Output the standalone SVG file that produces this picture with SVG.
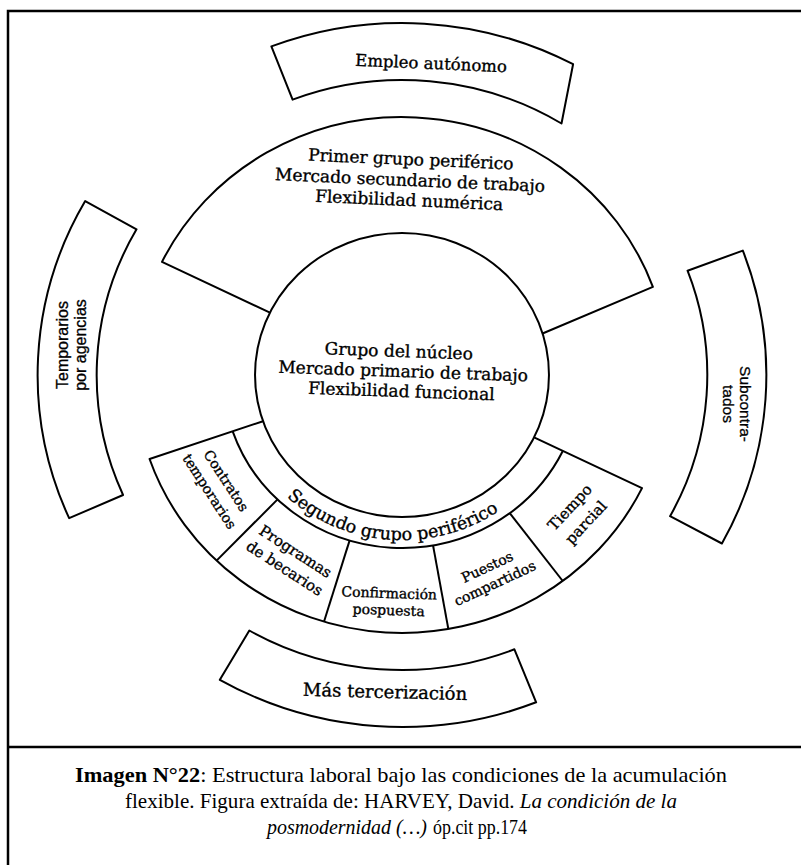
<svg xmlns="http://www.w3.org/2000/svg" width="801" height="865" viewBox="0 0 801 865">
<style>
.ln{fill:none;stroke:#000;stroke-width:2;stroke-linejoin:round;vector-effect:non-scaling-stroke}
.fr{fill:none;stroke:#000;stroke-width:2.5}
.sf{font-family:"DejaVu Serif","Liberation Serif",serif;fill:#000;stroke:#000;stroke-width:0.35}
.ss{font-family:"Liberation Sans",Arial,sans-serif;fill:#000;stroke:#000;stroke-width:0.3}
.cap{font-family:"Liberation Serif","Times New Roman",serif;font-size:21px;fill:#000}
</style>
<defs>
<path id="segArc" d="M234.3,406.5 A170.8 165 0 0 0 563.5,428.7"/>
</defs>
<rect width="801" height="865" fill="#fff"/>
<g id="frame">
<path class="fr" d="M801,11 H8 V865"/>
<path class="fr" d="M8,747 H801"/>
</g>
<g id="connectors"></g>
<g id="shapes" transform="translate(402,375) scale(1.035,1)">
<g id="primer-shape">
<path class="ln" d="M-127.6,-62.3 L-231.9,-113.1 A258 258 0 0 1 242.4,-88.2 L135.8,-41.5"/>
</g>
<g id="nucleo-shape">
<circle class="ln" cx="0" cy="0" r="142"/>
</g>
<g id="segundo-shape">
<path class="ln" d="M-134.3,46.2 L-243.9,84.0 A258 258 0 0 0 231.9,113.1 L127.6,62.3"/>
<path class="ln" d="M-163.6,56.3 A173 173 0 0 0 155.5,75.8"/>
<path class="ln" d="M-120.2,124.4 L-179.2,185.6"/>
<path class="ln" d="M-50.6,165.4 L-75.4,246.7"/>
<path class="ln" d="M30.0,170.4 L44.8,254.1"/>
<path class="ln" d="M104.1,138.2 L155.3,206.0"/>
</g>
<g id="empleo-shape">
<path class="ln" d="M-126.2,-328.6 A352 352 0 0 1 165.3,-310.8 L154.1,-251.5 A295 295 0 0 0 -105.7,-275.4 Z"/>
</g>
<g id="subcontratados-shape">
<path class="ln" d="M275.9,-104.3 L329.3,-124.4 A352 352 0 0 1 309.1,168.5 L259.0,141.2 A295 295 0 0 0 275.9,-104.3 Z"/>
</g>
<g id="mas-shape">
<path class="ln" d="M-147.5,255.5 A295 295 0 0 0 108.6,274.3 L129.6,327.3 A352 352 0 0 1 -176,304.8 Z"/>
</g>
<g id="temporarios-shape">
<path class="ln" d="M-306.1,-173.9 L-256.5,-145.7 A295 295 0 0 0 -269.5,120.0 L-321.6,143.2 A352 352 0 0 1 -306.1,-173.9 Z"/>
</g>
</g>
<g id="primer">
<g class="sf" font-size="17" text-anchor="middle" transform="rotate(2.5 410 180)">
<text x="410" y="165">Primer grupo periférico</text>
<text x="410" y="186">Mercado secundario de trabajo</text>
<text x="410" y="206">Flexibilidad numérica</text>
</g>
</g>
<g id="nucleo">
<g class="sf" font-size="17" text-anchor="middle" transform="rotate(2 400 375)">
<text x="398" y="357">Grupo del núcleo</text>
<text x="403" y="377">Mercado primario de trabajo</text>
<text x="402" y="397">Flexibilidad funcional</text>
</g>
</g>
<g id="segundo">
<text class="sf" font-size="17.5" text-anchor="middle"><textPath href="#segArc" startOffset="50%">Segundo grupo periférico</textPath></text>
</g>
<g id="cell-contratos">
<g class="sf" font-size="14" text-anchor="middle" transform="translate(218,486) rotate(57)">
<text x="0" y="-5">Contratos</text>
<text x="0" y="15">temporarios</text>
</g>
</g>
<g id="cell-programas">
<g class="sf" font-size="15" text-anchor="middle" transform="translate(290,560) rotate(33)">
<text x="0" y="-5">Programas</text>
<text x="0" y="15">de becarios</text>
</g>
</g>
<g id="cell-confirmacion">
<g class="sf" font-size="14" text-anchor="middle" transform="translate(389,601) rotate(2)">
<text x="0" y="-3">Confirmación</text>
<text x="0" y="14">pospuesta</text>
</g>
</g>
<g id="cell-puestos">
<g class="sf" font-size="14" text-anchor="middle" transform="translate(491,575) rotate(-25)">
<text x="0" y="-4">Puestos</text>
<text x="0" y="14">compartidos</text>
</g>
</g>
<g id="cell-tiempo">
<g class="sf" font-size="15" text-anchor="middle" transform="translate(578,515) rotate(-47)">
<text x="0" y="-6">Tiempo</text>
<text x="0" y="16">parcial</text>
</g>
</g>
<g id="empleo">
<text class="sf" font-size="16.5" text-anchor="middle" transform="rotate(2.5 431 66)" x="431" y="69">Empleo autónomo</text>
</g>
<g id="temporarios">
<g class="ss" font-size="16" text-anchor="middle" transform="translate(72,345) rotate(-90)">
<text x="0" y="-4">Temporarios</text>
<text x="0" y="14">por agencias</text>
</g>
</g>
<g id="subcontratados">
<g class="ss" font-size="15.5" text-anchor="middle" transform="translate(736,404) rotate(90)">
<text x="0" y="-4">Subcontra-</text>
<text x="0" y="13">tados</text>
</g>
</g>
<g id="mas">
<text class="sf" font-size="18" text-anchor="middle" transform="rotate(1.5 385 696)" x="385" y="698">Más tercerización</text>
</g>
<g id="caption" class="cap">
<text x="401" y="782" text-anchor="middle" textLength="652" lengthAdjust="spacingAndGlyphs"><tspan font-weight="bold">Imagen N°22</tspan>: Estructura laboral bajo las condiciones de la acumulación</text>
<text x="401" y="808" text-anchor="middle" textLength="552" lengthAdjust="spacingAndGlyphs">flexible. Figura extraída de: HARVEY, David. <tspan font-style="italic">La condición de la</tspan></text>
<text x="267" y="834" font-style="italic" textLength="160" lengthAdjust="spacingAndGlyphs">posmodernidad (…)</text>
<text x="433" y="834" textLength="94" lengthAdjust="spacingAndGlyphs">óp.cit pp.174</text>
</g>
</svg>
